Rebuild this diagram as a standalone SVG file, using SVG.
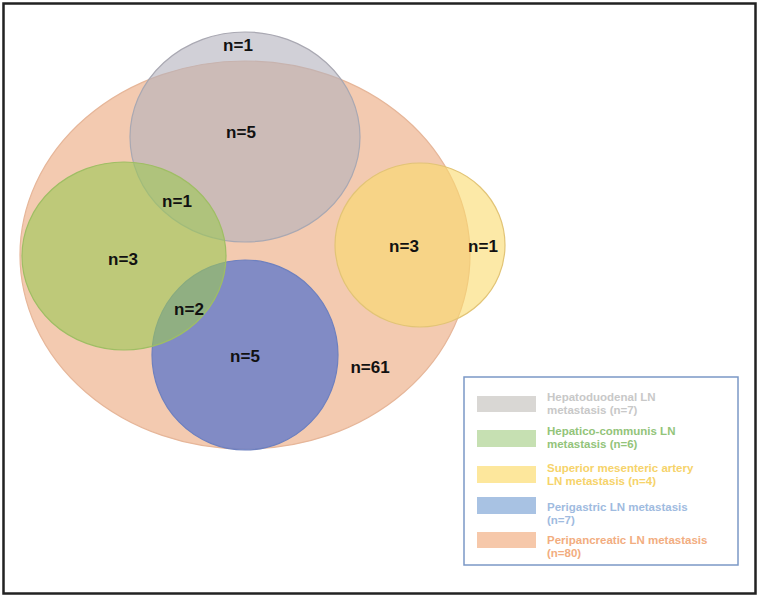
<svg xmlns="http://www.w3.org/2000/svg" width="760" height="599" viewBox="0 0 760 599">
<style>
.lbl{font-family:"Liberation Sans",Arial,sans-serif;font-weight:bold;font-size:17px;fill:#111;text-anchor:middle;dominant-baseline:central}
.lg{font-family:"Liberation Sans",Arial,sans-serif;font-weight:bold;font-size:11.5px}
</style>
<rect width="760" height="599" fill="#fff"/>
<rect x="3.5" y="3.5" width="752" height="590" fill="none" stroke="#222" stroke-width="2.5"/>
<g id="peripancreatic"><ellipse cx="245" cy="255" rx="225" ry="194" fill="#f3cab0" stroke="#e6b699" stroke-width="1.2"/></g>
<g id="hepatoduodenal"><ellipse cx="245" cy="137" rx="115" ry="105" fill="rgb(178,176,188)" fill-opacity="0.6" stroke="#a9a8b2" stroke-width="1.2"/></g>
<g id="perigastric"><ellipse cx="245" cy="355" rx="93" ry="95" fill="rgb(85,115,205)" fill-opacity="0.72" stroke="#6e80bf" stroke-width="1.2"/></g>
<g id="sma"><ellipse cx="420" cy="245" rx="85" ry="82" fill="rgb(250,218,108)" fill-opacity="0.6" stroke="#e2c476" stroke-width="1.2"/></g>
<g id="hepatico"><ellipse cx="124" cy="256" rx="102" ry="94" fill="rgb(155,200,85)" fill-opacity="0.6" stroke="#9fbe64" stroke-width="1.2"/></g>
<g id="labels">
<text class="lbl" x="238" y="45">n=1</text>
<text class="lbl" x="241" y="132">n=5</text>
<text class="lbl" x="177" y="201">n=1</text>
<text class="lbl" x="123" y="259">n=3</text>
<text class="lbl" x="189" y="309">n=2</text>
<text class="lbl" x="245" y="356">n=5</text>
<text class="lbl" x="370" y="367">n=61</text>
<text class="lbl" x="404" y="246">n=3</text>
<text class="lbl" x="483" y="246">n=1</text>
</g>
<g id="legend">
<rect x="464" y="377" width="274" height="188" fill="#fff" stroke="#7b98c6" stroke-width="1.5"/>
<rect x="477" y="396" width="59" height="16" fill="#d9d7d4"/>
<rect x="477" y="430" width="59" height="17" fill="#c6e0b2"/>
<rect x="477" y="466" width="59" height="17" fill="#fde79c"/>
<rect x="477" y="497" width="59" height="17" fill="#a8c2e3"/>
<rect x="477" y="532" width="59" height="16" fill="#f6c8aa"/>
<text class="lg" fill="#c8c8c8" x="547" y="401">Hepatoduodenal LN<tspan x="547" y="414">metastasis (n=7)</tspan></text>
<text class="lg" fill="#93c47a" x="547" y="435">Hepatico-communis LN<tspan x="547" y="448">metastasis (n=6)</tspan></text>
<text class="lg" fill="#f6d36a" x="547" y="472">Superior mesenteric artery<tspan x="547" y="485">LN metastasis (n=4)</tspan></text>
<text class="lg" fill="#9fbbe0" x="547" y="511">Perigastric LN metastasis<tspan x="547" y="524">(n=7)</tspan></text>
<text class="lg" fill="#f2ad80" x="547" y="544">Peripancreatic LN metastasis<tspan x="547" y="557">(n=80)</tspan></text>
</g>
</svg>
